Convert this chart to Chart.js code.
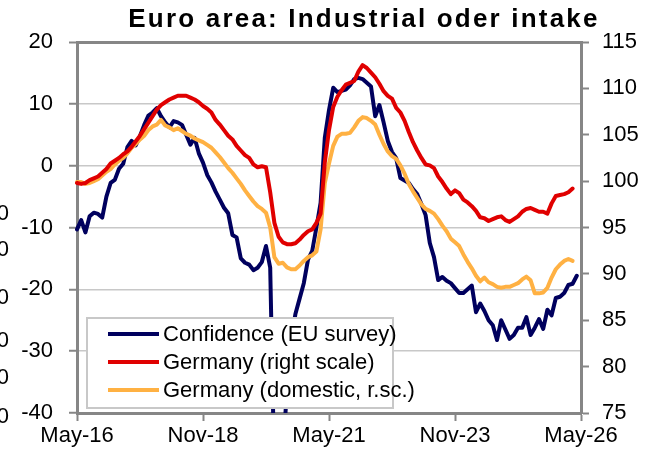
<!DOCTYPE html>
<html>
<head>
<meta charset="utf-8">
<script src="https://cdn.jsdelivr.net/npm/chart.js@4.4.0/dist/chart.umd.min.js"></script>
<style>
  html, body { margin: 0; padding: 0; background: #fff; }
  #wrap { position: relative; width: 656px; height: 461px; overflow: hidden; font-family: "Liberation Sans", Arial, sans-serif; }
  #chart { position: absolute; left: 0; top: 0; }
  #title { position: absolute; top: 2px; left: 72px; width: 584px; text-align: center; font-weight: bold; font-size: 26px; letter-spacing: 2.2px; line-height: 32px; color: #000; }
  #legend { position: absolute; left: 86px; top: 317px; width: 308px; height: 92px; border: 2px solid #c8c8c8; background: #fff; box-sizing: border-box; }
  .row { position: absolute; left: 0; height: 26px; line-height: 26px; font-size: 22px; color: #000; white-space: nowrap; }
  .row i { position: absolute; left: 20px; top: 11px; width: 51px; height: 4px; }
  .row span { position: absolute; left: 75px; }
  .edge { position: absolute; right: 647px; font-size: 22px; line-height: 24px; }
</style>
</head>
<body>
<div id="wrap">
  <canvas id="chart" width="656" height="461"></canvas>
  <div id="title">Euro area: Industrial oder intake</div>
  <div id="legend"></div>
  <div class="edge" style="top:201px">0</div>
  <div class="edge" style="top:237px">0</div>
  <div class="edge" style="top:285px">0</div>
  <div class="edge" style="top:328px">0</div>
  <div class="edge" style="top:365px">0</div>
  <div class="edge" style="top:404px">0</div>
</div>
<script>
// monthly, May-16 .. May-26
const startYear = 2016;
const startMonth = 4; // May
const monthCount = 121;
const monthNames = ['Jan', 'Feb', 'Mar', 'Apr', 'May', 'Jun', 'Jul', 'Aug', 'Sep', 'Oct', 'Nov', 'Dec'];
const xTickLabels = ['May-16', 'Nov-18', 'May-21', 'Nov-23', 'May-26'];
const leftTicks = { min: -40, max: 20, step: 10 };
const rightTicks = { min: 75, max: 115, step: 5 };

const seriesNames = ['Confidence (EU survey)', 'Germany (right scale)', 'Germany (domestic, r.sc.)'];

// EU survey order books (left scale)
const confidence = [
  -10.3, -8.8, -10.8, -8.2, -7.6, -7.8, -8.4, -5.0, -2.8, -2.3,
  -0.5, 0.3, 3.0, 4.0, 3.3, 4.8, 6.6, 8.1, 8.6, 9.3,
  8.0, 7.0, 6.2, 7.2, 7.0, 6.6, 5.0, 3.4, 4.5, 2.0,
  0.5, -1.5, -2.7, -4.2, -5.5, -6.8, -7.7, -11.2, -11.6, -15.0,
  -15.7, -16.0, -16.9, -16.5, -15.6, -13.0, -16.5, -50.0, -56.0, -47.0,
  -36.0, -28.0, -24.0, -21.5, -19.0, -15.2, -13.8, -10.0, -6.0, 4.5,
  9.0, 12.6, 11.9, 12.1, 12.3, 13.0, 14.0, 14.2, 14.0, 13.4,
  12.8, 8.0, 9.8, 7.0, 4.0, 2.2, 1.2, -2.0, -2.4, -2.8,
  -3.8, -4.6, -6.2, -8.0, -12.5, -14.8, -18.5, -18.0, -18.6, -19.0,
  -19.8, -20.6, -20.6, -20.0, -19.4, -23.7, -22.3, -23.5, -25.0, -25.8,
  -28.2, -25.0, -26.5, -28.0, -27.4, -26.2, -26.2, -24.5, -27.4, -26.2,
  -24.8, -26.4, -23.3, -24.2, -21.4, -21.2, -20.6, -19.3, -19.1, -17.8,
  null
];

// Germany order intake (right scale)
const germany = [
  99.8, 99.7, 99.8, 100.1, 100.3, 100.5, 100.9, 101.3, 101.9, 102.2,
  102.5, 102.9, 103.2, 103.7, 104.3, 104.9, 105.6, 106.3, 107.0, 107.7,
  108.2, 108.5, 108.8, 109.0, 109.2, 109.2, 109.2, 109.0, 108.8, 108.5,
  108.1, 107.8, 107.4, 106.6, 106.1, 105.5, 104.9, 104.5, 103.8, 103.3,
  102.8, 102.5, 101.8, 101.5, 101.6, 101.5, 98.8, 95.5, 94.0, 93.4,
  93.2, 93.2, 93.3, 93.7, 94.2, 94.6, 94.8, 95.5, 96.5, 102.0,
  105.5, 108.0, 109.1, 109.8, 110.4, 110.6, 110.8, 111.8, 112.5, 112.2,
  111.7, 111.2, 110.5, 109.7, 109.2, 108.9, 107.9, 107.4, 106.5, 105.3,
  104.2, 103.3, 102.5, 101.8, 101.7, 101.4, 100.5, 99.9, 99.2, 98.6,
  99.0, 98.7, 98.0, 97.7, 97.3, 96.8, 96.1, 96.0, 95.7, 95.9,
  96.1, 96.2, 95.8, 95.6, 95.9, 96.2, 96.7, 97.0, 97.1, 96.9,
  96.7, 96.7, 96.5, 97.6, 98.4, 98.5, 98.6, 98.8, 99.2, null,
  null
];

// Germany domestic order intake (right scale)
const germanyDomestic = [
  99.9, 99.9, 99.7, 99.8, 100.0, 100.2, 100.6, 101.0, 101.3, 101.8,
  102.2, 102.5, 103.0, 103.6, 104.0, 104.5, 104.9, 105.5, 105.9, 106.1,
  106.6, 106.0, 105.8, 105.5, 105.7, 105.4, 105.1, 104.9, 104.6, 104.4,
  104.2, 103.9, 103.6, 103.1, 102.6, 102.0, 101.4, 100.9, 100.3, 99.7,
  99.0, 98.4, 97.8, 97.3, 97.0, 96.6, 95.0, 91.8, 91.1, 91.2,
  90.7, 90.5, 90.5, 90.9, 91.4, 91.8, 92.0, 92.4, 94.8, 99.8,
  101.9, 103.8, 104.8, 105.1, 105.1, 105.2, 105.8, 106.5, 106.9, 106.8,
  106.5, 106.1, 105.0, 104.0, 103.2, 102.7, 102.4, 101.7, 100.8, 99.7,
  98.9, 98.2, 97.5, 97.0, 96.8, 96.5, 95.9, 95.2, 94.6, 93.8,
  93.4, 93.0, 92.1, 91.3, 90.6, 89.8, 89.2, 89.6, 89.1, 88.9,
  88.6, 88.5, 88.6, 88.6, 88.8, 89.0, 89.4, 89.7, 89.3, 87.9,
  87.9, 88.0, 88.5, 89.6, 90.5, 91.0, 91.4, 91.6, 91.4, null,
  null
];

const seriesColors = ['#00005e', '#e00000', '#ffb143'];

const labels = [];
for (let i = 0; i < monthCount; i++) {
  const m = (startMonth + i) % 12;
  const y = startYear + Math.floor((startMonth + i) / 12);
  labels.push(monthNames[m] + '-' + String(y).slice(2));
}

const axisGray = '#868686';
const gridGray = '#c8c8c8';
const tickFont = { family: '"Liberation Sans", Arial, sans-serif', size: 22 };

// legend box (html, sits over the plot like the original)
const legendEl = document.getElementById('legend');
seriesNames.forEach((name, i) => {
  const row = document.createElement('div');
  row.className = 'row';
  row.style.top = (2 + i * 28) + 'px';
  row.innerHTML = `<i style="background:${seriesColors[i]}"></i><span>${name}</span>`;
  legendEl.appendChild(row);
});

new Chart(document.getElementById('chart'), {
  type: 'line',
  data: {
    labels: labels,
    datasets: [{
      label: seriesNames[1],
      data: germany,
      borderColor: seriesColors[1],
      borderWidth: 4,
      yAxisID: 'y1',
      order: 0
    }, {
      label: seriesNames[2],
      data: germanyDomestic,
      borderColor: seriesColors[2],
      borderWidth: 4,
      yAxisID: 'y1',
      order: 1
    }, {
      label: seriesNames[0],
      data: confidence,
      borderColor: seriesColors[0],
      borderWidth: 4,
      yAxisID: 'y',
      order: 2
    }]
  },
  options: {
    responsive: false,
    animation: false,
    devicePixelRatio: 1,
    layout: { padding: { top: 42, left: 0, right: 0, bottom: 0 } },
    elements: { point: { radius: 0 }, line: { tension: 0, borderJoinStyle: 'round', borderCapStyle: 'round' } },
    plugins: { legend: { display: false }, title: { display: false }, tooltip: { enabled: false } },
    scales: {
      x: {
        type: 'category',
        offset: false,
        afterBuildTicks: s => { s.ticks = s.ticks.filter(t => xTickLabels.includes(labels[t.value])); },
        afterFit: s => { s.height = 48; },
        ticks: { autoSkip: false, maxRotation: 0, color: '#000', font: tickFont, padding: 2 },
        grid: { drawOnChartArea: false, tickLength: 8, tickWidth: 2, tickColor: axisGray },
        border: { color: axisGray, width: 3 }
      },
      y: {
        position: 'left',
        min: leftTicks.min,
        max: leftTicks.max,
        afterFit: s => { s.width = 77; },
        ticks: { stepSize: leftTicks.step, color: '#000', font: tickFont, padding: 16 },
        grid: {
          color: c => c.tick && c.tick.value === leftTicks.max ? axisGray : gridGray,
          lineWidth: c => c.tick && c.tick.value === leftTicks.max ? 3 : 1.5,
          tickLength: 8, tickWidth: 2, tickColor: axisGray
        },
        border: { color: axisGray, width: 3 }
      },
      y1: {
        position: 'right',
        min: rightTicks.min,
        max: rightTicks.max,
        afterFit: s => { s.width = 75; },
        ticks: { stepSize: rightTicks.step, color: '#000', font: tickFont, padding: 13 },
        grid: { drawOnChartArea: false, tickLength: 8, tickWidth: 2, tickColor: axisGray },
        border: { color: axisGray, width: 3 }
      }
    }
  }
});
</script>
</body>
</html>
